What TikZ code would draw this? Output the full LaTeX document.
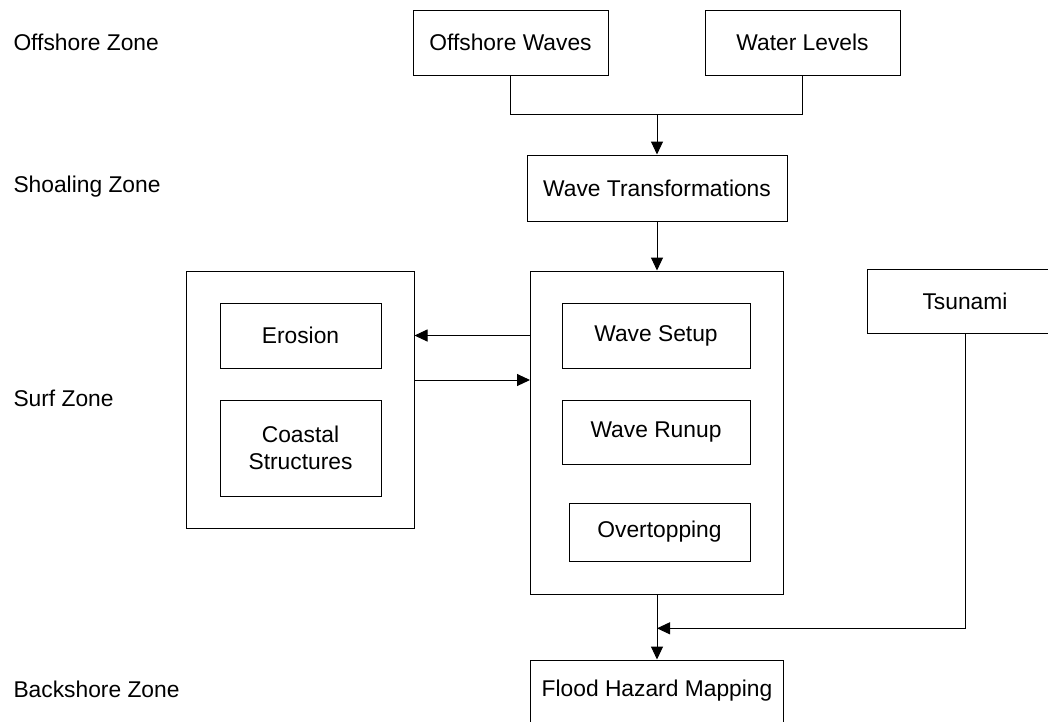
\documentclass[tikz,border=0pt]{standalone}
\usepackage{fontspec}
\setmainfont{Liberation Sans}
\usetikzlibrary{arrows.meta, positioning}
\tikzstyle{block} = [draw, fill=white, rectangle, inner sep=0pt, align=center]
\tikzstyle{zone} = [anchor=west, inner sep=0pt]

\begin{document}
\begin{tikzpicture}[x=1pt, y=-1pt, line width=1pt, >={Triangle[length=13pt,width=12pt]},
    font=\fontsize{22.8}{26.5}\selectfont]
  \useasboundingbox (0,0) rectangle (1048,721);

  % zone labels
  \node[zone] (oz) at (13,42.5) {Offshore Zone};
  \node[zone] (shz) at (13,187) {Shoaling Zone};
  \node[zone] (sfz) at (13,398) {Surf Zone};
  \node[zone] (bz) at (13,689) {Backshore Zone};

  % offshore
  \node[block, minimum width=195pt, minimum height=65pt] (ow) at (510.5,42.5) {Offshore Waves};
  \node[block, minimum width=195pt, minimum height=65pt, right of=ow, node distance=292pt] (wl) {Water Levels};
  \node[block, minimum width=260pt, minimum height=66pt] (wt) at (657,188) {Wave Transformations};

  % surf zone
  \node[block, minimum width=253pt, minimum height=323pt, below of=wt, node distance=244.5pt] (sz) {};
  \node[block, minimum width=188pt, minimum height=65pt] (ws) at (656,335.5) {Wave Setup};
  \node[block, minimum width=188pt, minimum height=64pt, below of=ws, node distance=96.5pt] (wr) {Wave Runup};
  \node[block, minimum width=181pt, minimum height=58pt] (ot) at (659.5,532) {Overtopping};

  \node[block, minimum width=228pt, minimum height=257pt] (sb) at (300,399.5) {};
  \node[block, minimum width=161pt, minimum height=65pt] (er) at (300.5,335.5) {Erosion};
  \node[block, minimum width=161pt, minimum height=96pt, below of=er, node distance=112.5pt] (cs) {Coastal\\Structures};

  \node[block, minimum width=196pt, minimum height=64pt] (ts) at (965,301) {Tsunami};

  % backshore
  \node[block, minimum width=253pt, minimum height=66pt, below of=sz, node distance=260.5pt, text depth=9pt] (fh) {Flood Hazard Mapping};

  \draw (ow.south) -- ++(0,39) coordinate (j1) -| (wl.south);
  \draw[->] (j1 -| wt.north) -- (wt.north);
  \draw[->] (wt.south) -- (wt.south |- sz.north);
  \draw[->] (sz.west |- ws) -- (sb.east |- ws);
  \draw[->] ([yshift=19.5pt]sb.east) coordinate (h1) -- (h1 -| sz.west);
  \draw[->] (sz.south) -- node[coordinate, pos=0.52] (j2) {} (fh.north);
  \draw[->] (ts.south) |- (j2);

\end{tikzpicture}
\end{document}
